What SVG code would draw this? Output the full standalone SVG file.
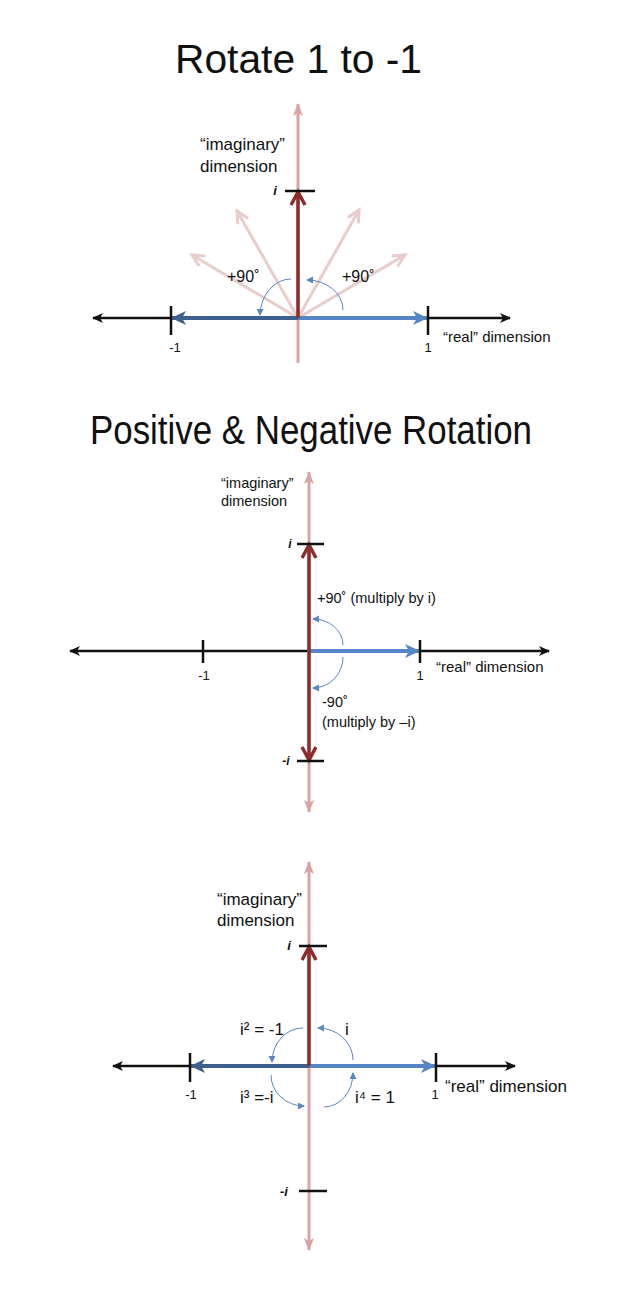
<svg xmlns="http://www.w3.org/2000/svg" width="624" height="1296" viewBox="0 0 624 1296">
<style>
text{font-family:"Liberation Sans",Arial,sans-serif;fill:#111}
.title{font-size:40px}
.lbl{font-size:17px}
.lbl2{font-size:14.5px}
.num{font-size:13px;text-anchor:middle}
.it{font-style:italic;font-weight:bold;font-size:13px;text-anchor:middle}
.ax{stroke:#111;stroke-width:2.5;fill:none;marker-start:url(#aBk);marker-end:url(#aBk)}
.pink{stroke:#dba3a1;stroke-width:3;fill:none}
.fade{stroke:#e8cdca;stroke-width:3;fill:none;marker-end:url(#aFd)}
.red{stroke:#8c2d2b;stroke-width:3.5;fill:none;marker-end:url(#aRd)}
.bl{stroke:#5585c4;stroke-width:4;fill:none;marker-end:url(#aBl)}
.dbl{stroke:#3f5f8e;stroke-width:4;fill:none;marker-end:url(#aDb)}
.tick{stroke:#111;stroke-width:2.5}
.arc{stroke:#5b87c0;stroke-width:1;fill:none;marker-end:url(#aSm)}
</style>
<defs>
<marker id="aBk" markerUnits="userSpaceOnUse" markerWidth="12" markerHeight="12" refX="10" refY="5" orient="auto-start-reverse"><path d="M0,0 L11,5 L0,10 L3,5 z" fill="#111"/></marker>
<marker id="aPk" markerUnits="userSpaceOnUse" markerWidth="14" markerHeight="12" refX="12" refY="5" orient="auto-start-reverse"><path d="M0,0 L13,5 L0,10 L3,5 z" fill="#dba3a1"/></marker>
<marker id="aFd" markerUnits="userSpaceOnUse" markerWidth="16" markerHeight="16" refX="13" refY="7" orient="auto"><path d="M1,1 L13,7 L1,13" fill="none" stroke="#e8cdca" stroke-width="3"/></marker>
<marker id="aRd" markerUnits="userSpaceOnUse" markerWidth="18" markerHeight="18" refX="14" refY="8" orient="auto-start-reverse"><path d="M1,1 L14,8 L1,15" fill="none" stroke="#8c2d2b" stroke-width="3.5"/></marker>
<marker id="aBl" markerUnits="userSpaceOnUse" markerWidth="18" markerHeight="18" refX="14" refY="8" orient="auto"><path d="M0,1 L15,8 L0,15 L4,8 z" fill="#5585c4"/></marker>
<marker id="aDb" markerUnits="userSpaceOnUse" markerWidth="18" markerHeight="18" refX="14" refY="8" orient="auto"><path d="M0,1 L15,8 L0,15 L4,8 z" fill="#3f5f8e"/></marker>
<marker id="aSm" markerUnits="userSpaceOnUse" markerWidth="8" markerHeight="8" refX="6" refY="3.5" orient="auto"><path d="M0,0 L7,3.5 L0,7 z" fill="#5b87c0"/></marker>
</defs>

<g id="title1"><text class="title" x="175" y="73" textLength="247" lengthAdjust="spacingAndGlyphs">Rotate 1 to -1</text></g>
<g id="title2"><text class="title" x="90" y="444" textLength="442" lengthAdjust="spacingAndGlyphs">Positive &amp; Negative Rotation</text></g>

<g id="connectors">
<!-- Diagram 1 -->
<line class="ax" x1="93" y1="318" x2="510" y2="318"/>
<line class="pink" x1="298" y1="363" x2="298" y2="104" marker-end="url(#aPk)"/>
<line class="fade" x1="298" y1="318" x2="237" y2="211"/>
<line class="fade" x1="298" y1="318" x2="192" y2="255"/>
<line class="fade" x1="298" y1="318" x2="359" y2="210"/>
<line class="fade" x1="298" y1="318" x2="405" y2="255"/>
<line class="dbl" x1="298" y1="318" x2="172" y2="318"/>
<line class="bl" x1="298" y1="318" x2="427" y2="318"/>
<line class="red" x1="298" y1="318" x2="298" y2="192"/>
<path class="arc" d="M291,279 A31,37 0 0 0 260,315"/>
<path class="arc" d="M343,310 A36,30 0 0 0 307,280"/>

<!-- Diagram 2 -->
<line class="ax" x1="70" y1="651" x2="549" y2="651"/>
<line class="pink" x1="309" y1="812" x2="309" y2="472" marker-start="url(#aPk)" marker-end="url(#aPk)"/>
<line class="bl" x1="309" y1="651" x2="419" y2="651"/>
<line class="red" x1="309" y1="545" x2="309" y2="760" marker-start="url(#aRd)"/>
<path class="arc" d="M343,645 A30,26 0 0 0 313,619"/>
<path class="arc" d="M343,657 A30,31 0 0 1 313,688"/>

<!-- Diagram 3 -->
<line class="ax" x1="113" y1="1066" x2="515" y2="1066"/>
<line class="pink" x1="309" y1="1250" x2="309" y2="862" marker-start="url(#aPk)" marker-end="url(#aPk)"/>
<line class="dbl" x1="309" y1="1066" x2="191" y2="1066"/>
<line class="bl" x1="309" y1="1066" x2="435" y2="1066"/>
<line class="red" x1="309" y1="1066" x2="309" y2="947"/>
<path class="arc" d="M353,1060 A35,32 0 0 0 318,1028"/>
<path class="arc" d="M303,1028 A31,34 0 0 0 272,1062"/>
<path class="arc" d="M271,1075 A33,31 0 0 0 304,1106"/>
<path class="arc" d="M324,1107 A29,34 0 0 0 353,1073"/>
</g>

<g id="ticks">
<line class="tick" x1="171" y1="306" x2="171" y2="335"/>
<line class="tick" x1="428" y1="306" x2="428" y2="335"/>
<line class="tick" x1="285" y1="191" x2="315" y2="191"/>
<line class="tick" x1="203" y1="640" x2="203" y2="663"/>
<line class="tick" x1="420" y1="640" x2="420" y2="663"/>
<line class="tick" x1="297" y1="544" x2="324" y2="544"/>
<line class="tick" x1="297" y1="761" x2="324" y2="761"/>
<line class="tick" x1="190" y1="1053" x2="190" y2="1082"/>
<line class="tick" x1="436" y1="1053" x2="436" y2="1082"/>
<line class="tick" x1="299" y1="946" x2="327" y2="946"/>
<line class="tick" x1="299" y1="1191" x2="327" y2="1191"/>
</g>

<g id="d1-labels">
<text class="lbl" x="200" y="150">“imaginary”</text>
<text class="lbl" x="200" y="172">dimension</text>
<text class="it" x="275" y="195">i</text>
<text class="lbl" x="227" y="282" style="font-size:16px">+90˚</text>
<text class="lbl" x="342" y="282" style="font-size:16px">+90˚</text>
<text class="num" x="175" y="352">-1</text>
<text class="num" x="428" y="352">1</text>
<text x="443" y="342" style="font-size:15px">“real” dimension</text>
</g>

<g id="d2-labels">
<text class="lbl2" x="221" y="488">“imaginary”</text>
<text class="lbl2" x="221" y="506">dimension</text>
<text class="it" x="290" y="548" style="font-size:12px">i</text>
<text class="it" x="286" y="765" style="font-size:12px">-i</text>
<text class="lbl2" x="317" y="603">+90˚ (multiply by i)</text>
<text class="lbl2" x="322" y="707">-90˚</text>
<text class="lbl2" x="322" y="727">(multiply by –i)</text>
<text class="num" x="204" y="680">-1</text>
<text class="num" x="420" y="680">1</text>
<text x="436" y="672" style="font-size:15px">“real” dimension</text>
</g>

<g id="d3-labels">
<text class="lbl" x="217" y="905">“imaginary”</text>
<text class="lbl" x="217" y="926">dimension</text>
<text class="it" x="289" y="950">i</text>
<text class="it" x="284" y="1196">-i</text>
<text class="lbl" x="240" y="1035">i² = -1</text>
<text class="lbl" x="345" y="1035">i</text>
<text class="lbl" x="240" y="1103">i³ =-i</text>
<text class="lbl" x="355" y="1103">i⁴ = 1</text>
<text class="num" x="191" y="1099">-1</text>
<text class="num" x="435" y="1099">1</text>
<text class="lbl" x="445" y="1092">“real” dimension</text>
</g>
</svg>
